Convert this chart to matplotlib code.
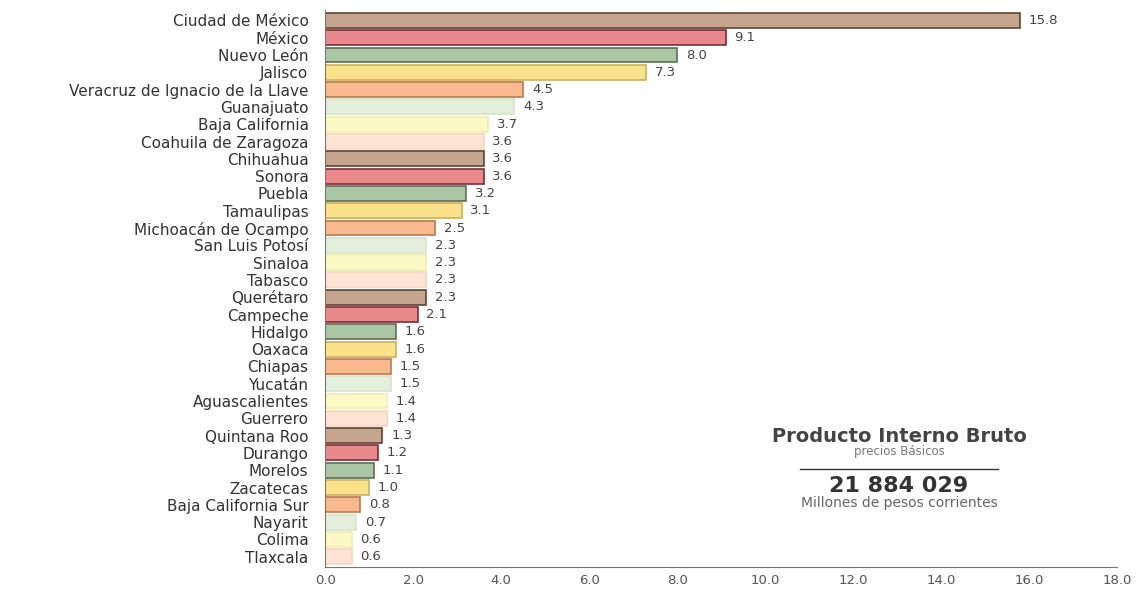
import numpy as np
import matplotlib.pyplot as plt

plt.rcParams['font.family'] = ['DejaVu Sans']

estados = ['Ciudad de México', 'México', 'Nuevo León', 'Jalisco',
           'Veracruz de Ignacio de la Llave', 'Guanajuato', 'Baja California',
           'Coahuila de Zaragoza', 'Chihuahua', 'Sonora', 'Puebla', 'Tamaulipas',
           'Michoacán de Ocampo', 'San Luis Potosí', 'Sinaloa', 'Tabasco',
           'Querétaro', 'Campeche', 'Hidalgo', 'Oaxaca', 'Chiapas', 'Yucatán',
           'Aguascalientes', 'Guerrero', 'Quintana Roo', 'Durango', 'Morelos',
           'Zacatecas', 'Baja California Sur', 'Nayarit', 'Colima', 'Tlaxcala']
valores = [15.8, 9.1, 8.0, 7.3, 4.5, 4.3, 3.7, 3.6, 3.6, 3.6, 3.2, 3.1, 2.5,
           2.3, 2.3, 2.3, 2.3, 2.1, 1.6, 1.6, 1.5, 1.5, 1.4, 1.4, 1.3, 1.2,
           1.1, 1.0, 0.8, 0.7, 0.6, 0.6]

paleta = ['#c6a58e', '#e88a8c', '#abc6a4', '#fbe18a', '#f8b98e',
          '#e3efdb', '#fcf9c4', '#fde3d3']
bordes = ['#5e4636', '#7a2e38', '#5f6e55', '#c9b060', '#b97a4e',
          '#d8e4d0', '#f0ecb4', '#f3d6c6']

fig = plt.figure(figsize=(11.41, 5.91), dpi=100)
ax = fig.add_axes([0.285, 0.041, 0.694, 0.942])

y = np.arange(len(estados))
colores = [paleta[i % 8] for i in y]
ecol = [bordes[i % 8] for i in y]
bars = ax.barh(y, valores, height=0.86, color=colores, edgecolor=ecol, linewidth=1.2)

for b, v in zip(bars, valores):
    ax.text(b.get_width() + 0.2, b.get_y() + b.get_height() / 2, f'{v:.1f}',
            va='center', ha='left', fontsize=9.5, color='#444444')

ax.set_yticks(y)
ax.set_yticklabels(estados, fontsize=11, color='#333333')
ax.set_ylim(len(estados) - 0.42, -0.6)
ax.set_xlim(0, 18)
ax.set_xticks(np.arange(0, 19, 2))
ax.set_xticklabels([f'{t:.1f}' for t in np.arange(0, 19, 2)], fontsize=9.5, color='#555555')
ax.tick_params(axis='y', length=0, pad=12)
ax.tick_params(axis='x', length=0, pad=5)

for s in ['top', 'right']:
    ax.spines[s].set_visible(False)
ax.spines['left'].set_color('#777777')
ax.spines['bottom'].set_color('#777777')

# Recuadro de texto
cx = 899 / 1141
fig.text(cx, 1 - 437 / 591, 'Producto Interno Bruto', ha='center', va='center',
         fontsize=14, fontweight='bold', color='#444444')
fig.text(cx, 1 - 452 / 591, 'precios Básicos', ha='center', va='center',
         fontsize=8.5, color='#777777')
fig.add_artist(plt.Line2D([800 / 1141, 998 / 1141], [1 - 469 / 591, 1 - 469 / 591],
                          color='#333333', lw=1))
fig.text(cx, 1 - 486 / 591, '21 884 029', ha='center', va='center',
         fontsize=16, fontweight='bold', color='#333333')
fig.text(cx, 1 - 503 / 591, 'Millones de pesos corrientes', ha='center', va='center',
         fontsize=10, color='#666666')

fig.savefig('out.png', dpi=100, facecolor='white')
